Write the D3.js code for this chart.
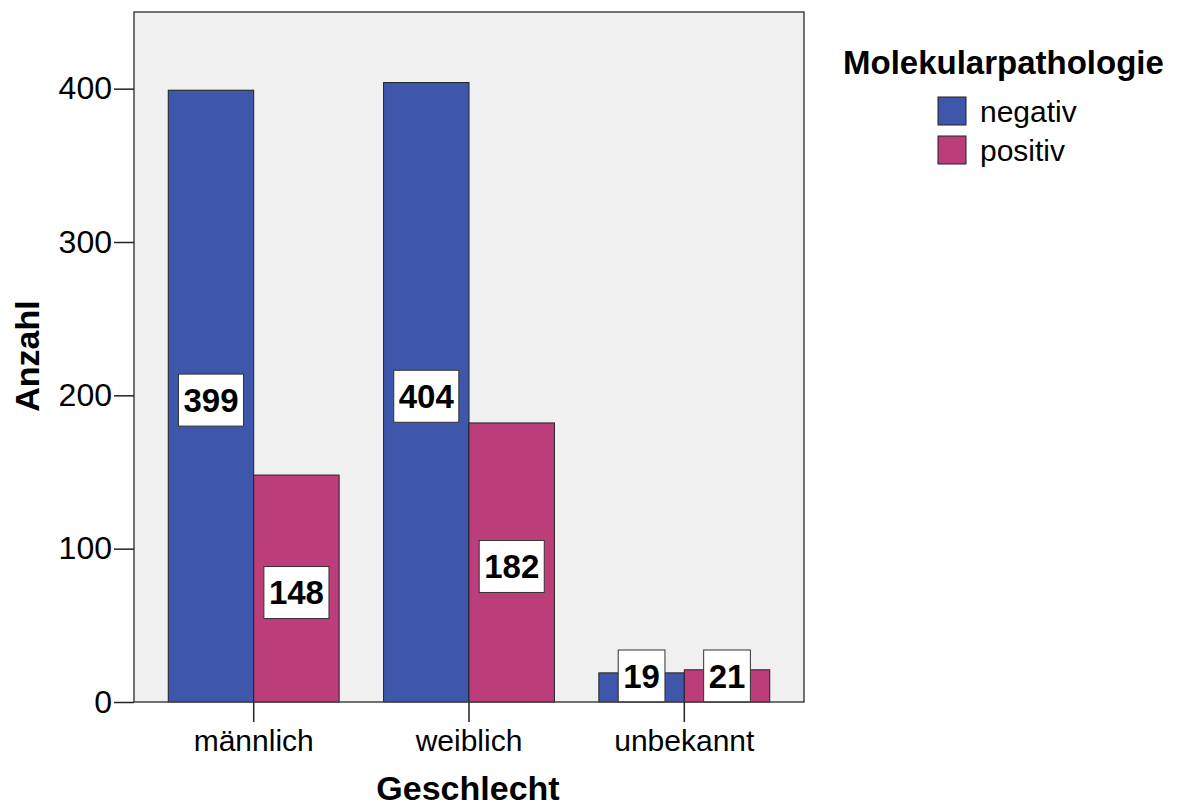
<!DOCTYPE html>
<html>
<head>
<meta charset="utf-8">
<script src="https://cdn.jsdelivr.net/npm/d3@7"></script>
<style>
  html, body { margin: 0; padding: 0; background: #ffffff; }
  svg { display: block; font-family: "Liberation Sans", Arial, sans-serif; }
</style>
</head>
<body>
<svg id="chart" width="1183" height="809"></svg>
<script>
const categories = ["männlich", "weiblich", "unbekannt"];
const seriesNames = ["negativ", "positiv"];
const negativValues = [399, 404, 19];
const positivValues = [148, 182, 21];
const yTicks = [0, 100, 200, 300, 400];
const colors = ["#3e57ab", "#bb3e7a"];

const svg = d3.select("#chart");
const plot = { left: 134, right: 804, top: 12, bottom: 702 };

const x0 = d3.scaleBand().domain(categories).range([plot.left, plot.right]).paddingInner(0).paddingOuter(0.056);
const x1 = d3.scaleBand().domain(seriesNames).range([0, x0.bandwidth()]).paddingInner(0).paddingOuter(0.26);
const y = d3.scaleLinear().domain([0, 450]).range([plot.bottom, plot.top]);

// background
svg.append("rect").attr("x", plot.left).attr("y", plot.top)
  .attr("width", plot.right - plot.left).attr("height", plot.bottom - plot.top)
  .attr("fill", "#f0f0f0");

const data = categories.map((c, i) => ({
  cat: c,
  vals: [
    { s: seriesNames[0], v: negativValues[i], c: colors[0] },
    { s: seriesNames[1], v: positivValues[i], c: colors[1] }
  ]
}));

const groups = svg.selectAll("g.grp").data(data).join("g")
  .attr("class", "grp")
  .attr("transform", d => `translate(${x0(d.cat)},0)`);

groups.selectAll("rect").data(d => d.vals).join("rect")
  .attr("x", d => x1(d.s))
  .attr("y", d => y(d.v))
  .attr("width", x1.bandwidth())
  .attr("height", d => y(0) - y(d.v))
  .attr("fill", d => d.c)
  .attr("stroke", "#222")
  .attr("stroke-width", 1);

// value labels
const boxH = 52;
groups.each(function(d) {
  const g = d3.select(this);
  d.vals.forEach(item => {
    const cx = x1(item.s) + x1.bandwidth() / 2;
    let cy = y(item.v / 2) + 4;
    if (cy + boxH / 2 > plot.bottom) cy = plot.bottom - boxH / 2;
    const t = g.append("text")
      .attr("x", cx).attr("y", cy)
      .attr("text-anchor", "middle")
      .attr("dominant-baseline", "central")
      .attr("font-size", 33)
      .attr("font-weight", "bold")
      .attr("fill", "#000")
      .text(item.v);
    const w = t.node().getComputedTextLength() + 10;
    g.insert("rect", function() { return t.node(); })
      .attr("x", cx - w / 2).attr("y", cy - boxH / 2)
      .attr("width", w).attr("height", boxH)
      .attr("fill", "#fff").attr("stroke", "#333").attr("stroke-width", 1);
  });
});

// frame
svg.append("rect").attr("x", plot.left).attr("y", plot.top)
  .attr("width", plot.right - plot.left).attr("height", plot.bottom - plot.top)
  .attr("fill", "none").attr("stroke", "#444").attr("stroke-width", 1.5);

// y axis
const yAxis = svg.append("g").attr("transform", `translate(${plot.left},0)`)
  .call(d3.axisLeft(y).tickValues(yTicks).tickSize(20).tickPadding(2).tickFormat(d3.format("d")));
yAxis.select(".domain").remove();
yAxis.selectAll(".tick line").attr("stroke", "#222").attr("stroke-width", 1.5);
yAxis.selectAll(".tick text").attr("font-size", 32).attr("fill", "#000")
  .attr("font-family", "Liberation Sans, Arial, sans-serif");

// x axis
const xAxis = svg.append("g").attr("transform", `translate(0,${plot.bottom})`)
  .call(d3.axisBottom(x0).tickSize(20).tickPadding(8));
xAxis.select(".domain").remove();
xAxis.selectAll(".tick line").attr("stroke", "#222").attr("stroke-width", 1.5);
xAxis.selectAll(".tick text").attr("font-size", 30).attr("fill", "#000")
  .attr("font-family", "Liberation Sans, Arial, sans-serif");

// axis titles
svg.append("text").attr("x", 468).attr("y", 800)
  .attr("text-anchor", "middle").attr("font-size", 34).attr("font-weight", "bold")
  .text("Geschlecht");
svg.append("text").attr("transform", "translate(39,356) rotate(-90)")
  .attr("text-anchor", "middle").attr("font-size", 34).attr("font-weight", "bold")
  .text("Anzahl");

// legend
svg.append("text").attr("x", 843).attr("y", 74)
  .attr("font-size", 33).attr("font-weight", "bold").text("Molekularpathologie");
const leg = svg.selectAll("g.leg").data(seriesNames).join("g")
  .attr("class", "leg")
  .attr("transform", (d, i) => `translate(938,${97 + i * 39})`);
leg.append("rect").attr("width", 28).attr("height", 28)
  .attr("fill", (d, i) => colors[i]).attr("stroke", "#222").attr("stroke-width", 1);
leg.append("text").attr("x", 42).attr("y", 14)
  .attr("dominant-baseline", "central").attr("font-size", 30).text(d => d);
</script>
</body>
</html>
